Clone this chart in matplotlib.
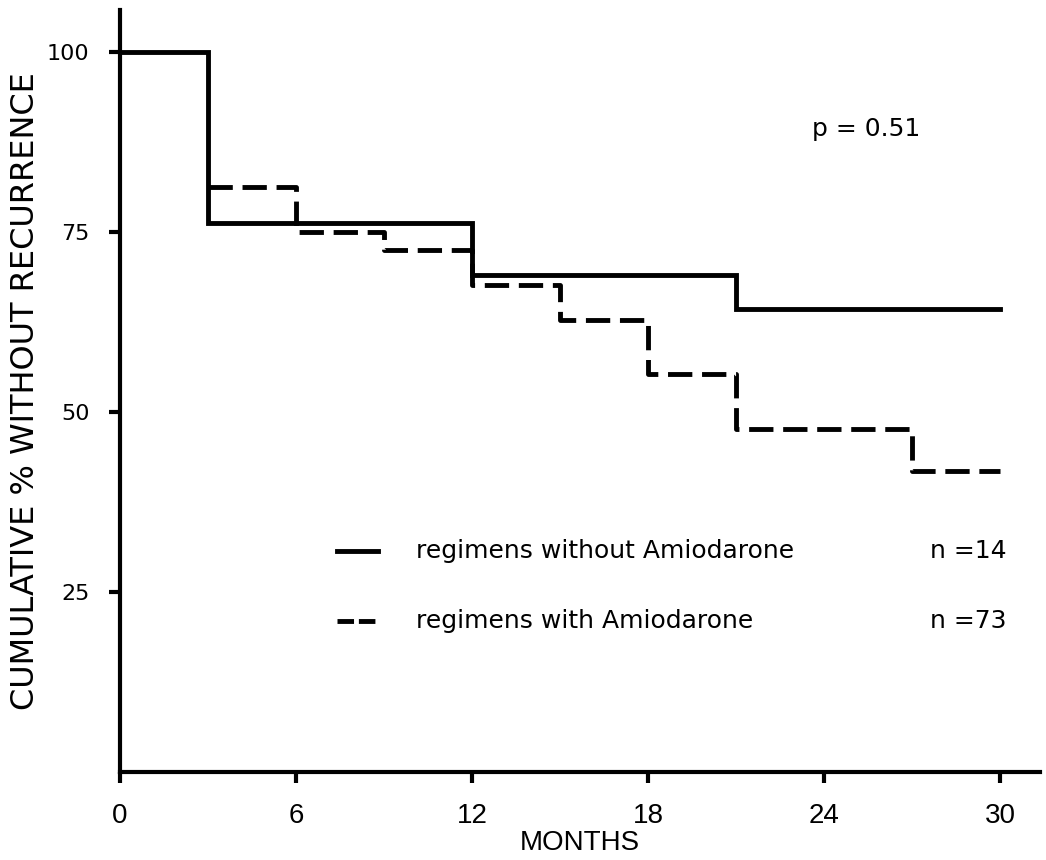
#!/usr/bin/env python3
import matplotlib
matplotlib.use("Agg")
import matplotlib.pyplot as plt

# Kaplan-Meier style step curves (months, cumulative % without recurrence)
months_without = [0, 3, 12, 21, 30]
pct_without = [100, 76.2, 69.0, 64.3, 64.3]

months_with = [3, 6, 9, 12, 15, 18, 21, 27, 30]
pct_with = [81.3, 75.0, 72.5, 67.6, 62.8, 55.2, 47.6, 41.8, 41.8]

x_ticks = [0, 6, 12, 18, 24, 30]
y_ticks = [25, 50, 75, 100]

label_without = "regimens without Amiodarone"
label_with = "regimens with Amiodarone"
n_without = "n =14"
n_with = "n =73"
p_text = "p = 0.51"

plt.rcParams['font.family'] = ['Liberation Sans', 'DejaVu Sans']


def main():
    fig = plt.figure(figsize=(10.46, 8.6), dpi=100)
    ax = fig.add_axes([0.1147, 0.1023, 0.8795, 0.886])

    ax.step(months_without, pct_without, where='post', color='black', lw=3.5,
            solid_joinstyle='miter')
    ax.step(months_with, pct_with, where='post', color='black', lw=3.5,
            linestyle=(0, (5, 2)))

    ax.set_xlim(0, 31.36)
    ax.set_ylim(0, 105.8)
    ax.spines['top'].set_visible(False)
    ax.spines['right'].set_visible(False)
    for s in ('left', 'bottom'):
        ax.spines[s].set_linewidth(3)

    ax.set_xticks(x_ticks)
    ax.set_yticks(y_ticks)
    ax.tick_params(axis='both', direction='out', length=8, width=3)
    ax.tick_params(axis='x', labelsize=20, pad=14)
    ax.tick_params(axis='y', labelsize=16, pad=14)
    for lab in ax.get_yticklabels():
        lab.set_fontfamily(['DejaVu Sans'])

    ax.set_xlabel("MONTHS", fontsize=20, labelpad=1)
    ax.set_ylabel("CUMULATIVE % WITHOUT RECURRENCE", fontsize=23,
                  family=['DejaVu Sans'])
    ax.yaxis.set_label_coords(-0.086, 0.5)

    # legend drawn by hand
    ax.plot([7.4, 8.8], [30.7, 30.7], color='black', lw=3.5)
    ax.plot([7.4, 8.8], [21.0, 21.0], color='black', lw=3.5,
            linestyle=(0, (3.4, 1.0)))
    txt = dict(fontsize=18, va='center', family=['DejaVu Sans'])
    ax.text(10.1, 30.7, label_without, **txt)
    ax.text(10.1, 21.0, label_with, **txt)
    ax.text(27.6, 30.7, n_without, **txt)
    ax.text(27.6, 21.0, n_with, **txt)
    ax.text(23.6, 89.3, p_text, fontsize=18, va='center',
            family=['DejaVu Sans'])

    fig.savefig("out.png", dpi=100)


if __name__ == '__main__':
    main()
